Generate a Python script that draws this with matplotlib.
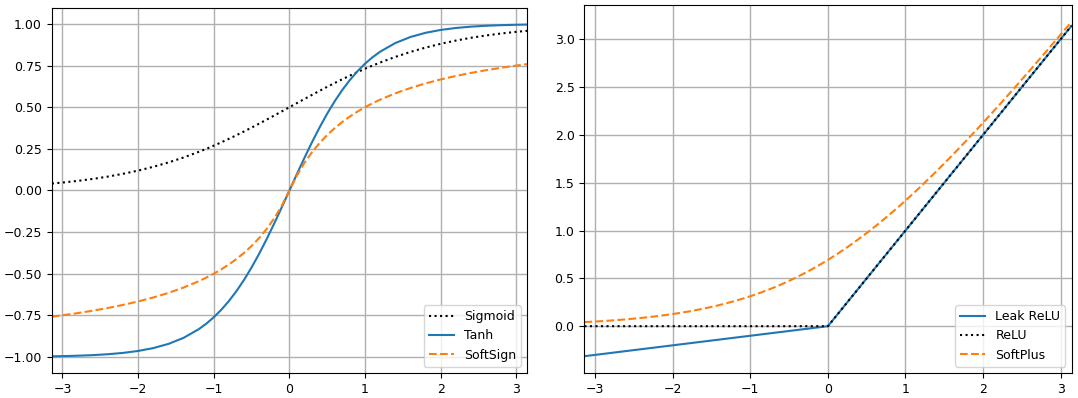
import numpy as np
import matplotlib
matplotlib.use("Agg")
import matplotlib.pyplot as plt

# sample points along x, denser around the centre
x = [-3.14, -3.0, -2.8, -2.6, -2.4, -2.2, -2.0, -1.8, -1.6, -1.4, -1.2,
     -1.1, -1.0, -0.9, -0.8, -0.7, -0.6, -0.5, -0.4, -0.3, -0.2, -0.1,
     0.0, 0.1, 0.2, 0.3, 0.4, 0.5, 0.6, 0.7, 0.8, 0.9, 1.0, 1.1, 1.2,
     1.4, 1.6, 1.8, 2.0, 2.2, 2.4, 2.6, 2.8, 3.0, 3.14]

sigmoid = [0.0415, 0.0474, 0.0573, 0.0691, 0.0832, 0.0998, 0.1192, 0.1419,
           0.1680, 0.1978, 0.2315,
           0.2497, 0.2689, 0.2891, 0.3100, 0.3318, 0.3543, 0.3775, 0.4013,
           0.4256, 0.4502, 0.4750,
           0.5, 0.5250, 0.5498, 0.5744, 0.5987, 0.6225, 0.6457, 0.6682,
           0.6900, 0.7109, 0.7311, 0.7503, 0.7685,
           0.8022, 0.8320, 0.8581, 0.8808, 0.9002, 0.9168, 0.9309, 0.9427,
           0.9526, 0.9585]
tanh = [-0.9963, -0.9951, -0.9926, -0.9890, -0.9837, -0.9757, -0.9640,
        -0.9468, -0.9217, -0.8854, -0.8337,
        -0.8005, -0.7616, -0.7163, -0.6640, -0.6044, -0.5370, -0.4621,
        -0.3799, -0.2913, -0.1974, -0.0997,
        0.0, 0.0997, 0.1974, 0.2913, 0.3799, 0.4621, 0.5370, 0.6044,
        0.6640, 0.7163, 0.7616, 0.8005, 0.8337,
        0.8854, 0.9217, 0.9468, 0.9640, 0.9757, 0.9837, 0.9890, 0.9926,
        0.9951, 0.9963]
softsign = [-0.7585, -0.75, -0.7368, -0.7222, -0.7059, -0.6875, -0.6667,
            -0.6429, -0.6154, -0.5833, -0.5455,
            -0.5238, -0.5, -0.4737, -0.4444, -0.4118, -0.375, -0.3333,
            -0.2857, -0.2308, -0.1667, -0.0909,
            0.0, 0.0909, 0.1667, 0.2308, 0.2857, 0.3333, 0.375, 0.4118,
            0.4444, 0.4737, 0.5, 0.5238, 0.5455,
            0.5833, 0.6154, 0.6429, 0.6667, 0.6875, 0.7059, 0.7222, 0.7368,
            0.75, 0.7585]
softplus = [0.0424, 0.0486, 0.0590, 0.0716, 0.0869, 0.1051, 0.1269, 0.1530,
            0.1839, 0.2204, 0.2633,
            0.2873, 0.3133, 0.3412, 0.3711, 0.4032, 0.4375, 0.4741, 0.5130,
            0.5544, 0.5981, 0.6444,
            0.6931, 0.7444, 0.7981, 0.8544, 0.9130, 0.9741, 1.0375, 1.1032,
            1.1711, 1.2412, 1.3133, 1.3873, 1.4633,
            1.6204, 1.7839, 1.9530, 2.1269, 2.3051, 2.4869, 2.6716, 2.8590,
            3.0486, 3.1824]

x_relu = [-3.14, 0.0, 3.14]
leaky_relu = [-0.314, 0.0, 3.14]
relu = [0.0, 0.0, 3.14]

plt.rcParams["font.size"] = 9

fig = plt.figure(figsize=(10.78, 3.98), dpi=100)
ax1 = fig.add_axes([0.048, 0.063, 0.441, 0.917])
ax2 = fig.add_axes([0.542, 0.063, 0.452, 0.924])

ax1.plot(x, sigmoid, color="black", linestyle=":", label="Sigmoid")
ax1.plot(x, tanh, color="#1f77b4", label="Tanh")
ax1.plot(x, softsign, color="#ff7f0e", linestyle="--", label="SoftSign")
ax1.set_xlim(-np.pi, np.pi)
ax1.grid(True, color="#b0b0b0", linewidth=1)
ax1.legend(loc="lower right")

ax2.plot(x_relu, leaky_relu, color="#1f77b4", label="Leak ReLU")
ax2.plot(x_relu, relu, color="black", linestyle=":", label="ReLU")
ax2.plot(x, softplus, color="#ff7f0e", linestyle="--", label="SoftPlus")
ax2.set_xlim(-np.pi, np.pi)
ax2.grid(True, color="#b0b0b0", linewidth=1)
ax2.legend(loc="lower right")

plt.savefig("out.png", dpi=100)
